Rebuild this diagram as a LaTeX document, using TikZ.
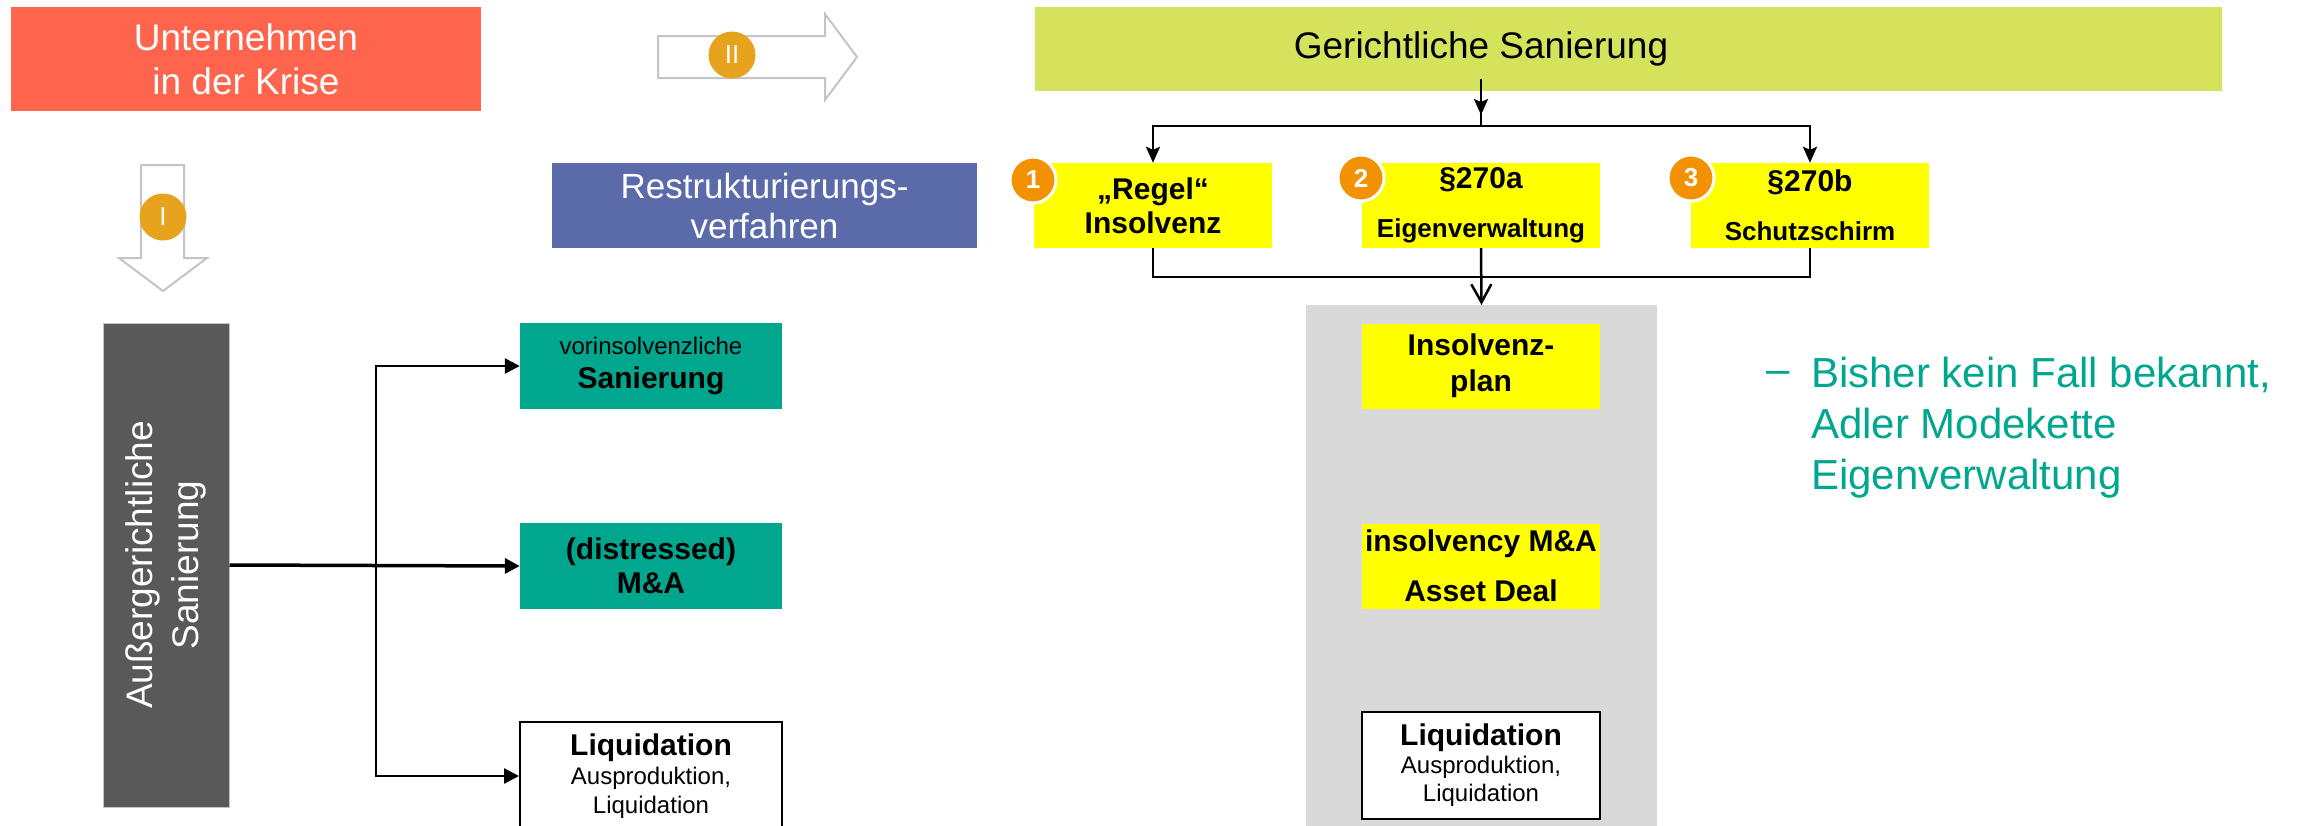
\documentclass[tikz,border=0pt]{standalone}
\usepackage{fontspec}
\setmainfont{Liberation Sans}
\usetikzlibrary{arrows.meta}
\definecolor{redC}{HTML}{FF654D}
\definecolor{limeC}{HTML}{D5E35C}
\definecolor{blueC}{HTML}{5B6BAA}
\definecolor{yellowC}{HTML}{FFFF00}
\definecolor{tealC}{HTML}{00A78E}
\definecolor{darkC}{HTML}{595959}
\definecolor{panelC}{HTML}{D9D9D9}
\definecolor{orangeC}{HTML}{F39200}
\definecolor{goldC}{HTML}{E8A31E}
\definecolor{outlineC}{HTML}{C4C4C4}
\newcommand\fsz[2]{\fontsize{#1}{#2}\selectfont}
\begin{document}
\begin{tikzpicture}[x=1pt,y=-1pt,
  rbox/.style={inner sep=0pt, align=center, minimum width=238pt, minimum height=85pt},
  ybox/.style={rbox, fill=yellowC, font=\fsz{30}{34}\bfseries},
  tbox/.style={inner sep=0pt, align=center, minimum width=262pt, minimum height=86pt, fill=tealC},
  conn/.style={line width=2.5pt, black},
  tipA/.style={-{Triangle[length=15pt,width=15pt]}},
  tipB/.style={-{Stealth[length=16pt,width=14pt,inset=3pt]}},
  circ/.style={circle, fill=orangeC, draw=white, line width=3pt, minimum size=46pt, inner sep=0pt, text=white, font=\fsz{26}{30}\bfseries},
  rom/.style={circle, fill=goldC, minimum size=47pt, inner sep=0pt, text=white, font=\fsz{26}{30}},
  hollow/.style={draw=outlineC, fill=white, line width=2pt, line join=miter}
]
\useasboundingbox (0,0) rectangle (2303,825);

% top-left
\node[fill=redC, minimum width=470pt, minimum height=104pt, inner sep=0pt, text=white, align=center, font=\fsz{37}{44}] (krise) at (246,59) {Unternehmen\\in der Krise};

% hollow arrows
\draw[hollow] (658,36) -- (825,36) -- (825,14) -- (857,57) -- (825,100) -- (825,78) -- (658,78) -- cycle;
\node[rom] (rII) at (732,55) {II};
\draw[hollow] (141,165) -- (184,165) -- (184,258) -- (207,258) -- (163,291) -- (119,258) -- (141,258) -- cycle;
\node[rom] (rI) at (163,217) {I};

% Restrukturierung
\node[fill=blueC, minimum width=425pt, minimum height=85pt, inner sep=0pt, text=white, align=center, font=\fsz{35}{40}] (restr) at (764.5,205.5) {Restrukturierungs-\\verfahren};

% Gerichtliche Sanierung
\node[fill=limeC, minimum width=1187pt, minimum height=84pt, inner sep=0pt] (ger) at (1628.5,49) {};
\node[font=\fsz{37}{44}, inner sep=0pt] (gerT) at (1481,49) {Gerichtliche Sanierung};

\node[ybox] (b1) at (1153,205.5) {„Regel“\\Insolvenz};
\node[ybox, font=\fsz{30}{49}\bfseries] (b2) at (1481,205.5) {§270a\\{\fsz{26}{49}Eigenverwaltung}};
\node[ybox, font=\fsz{30}{49}\bfseries] (b3) at (1810,205.5) {§270b\\{\fsz{26}{49}Schutzschirm}};

\node[circ] (c1) at (1033,180) {1};
\node[circ] (c2) at (1361,178) {2};
\node[circ] (c3) at (1691,178) {3};

% gray panel
\node[fill=panelC, minimum width=351pt, minimum height=525pt, inner sep=0pt] (panel) at (1481.5,567.5) {};
\node[ybox, font=\fsz{30}{36}\bfseries] (plan) at (1481,366) {Insolvenz-\\plan};
\node[ybox, font=\fsz{30}{50}\bfseries] (ima) at (1481,566) {insolvency M\&A\\Asset Deal};
\node[rbox, fill=white, draw=black, line width=2pt, minimum height=107pt, font=\fsz{24}{28}] (liqR) at (1481,765.5) {{\fsz{30}{34}\bfseries Liquidation}\\Ausproduktion,\\Liquidation};

% connectors right
\coordinate (jt) at (1481,126);
\coordinate (jb) at (1481,277);
\coordinate (gs) at (1481,79);
\draw[conn] (gs) -- (jt);
\draw[conn,tipB] (gs) -- ++(0,36);
\draw[conn,tipB] (jt) -| (b1.north);
\draw[conn,tipB] (jt) -| (b3.north);
\draw[conn] (b1.south) |- (jb);
\draw[conn] (b3.south) |- (jb);
\draw[conn,-{Straight Barb[length=18pt,width=20pt]}] (b2.south) -- (panel.north);

% right text
\node[text=tealC, font=\fsz{42}{51}, anchor=east, inner sep=0pt] (dash) at (1790,377) {–};
\node[text=tealC, font=\fsz{42}{51}, anchor=west, align=left, inner sep=0pt] (note) at (1811,428) {Bisher kein Fall bekannt,\\Adler Modekette\\Eigenverwaltung};

% left side
\node[fill=darkC, draw=outlineC, line width=1pt, minimum width=126pt, minimum height=484pt, inner sep=0pt] (dark) at (166,565) {};
\node[rotate=90, text=white, align=center, font=\fsz{37}{46}, inner sep=0pt] (darkT) at (dark.center) {Außergerichtliche\\Sanierung};

\node[tbox, font=\fsz{24}{34}] (ta) at (651,366) {vorinsolvenzliche\\{\fsz{30}{34}\bfseries Sanierung}};
\node[tbox, font=\fsz{30}{34}\bfseries] (tb) at (651,566) {(distressed)\\M\&A};
\node[inner sep=0pt, align=center, minimum width=262pt, minimum height=108pt, fill=white, draw=black, line width=2pt, font=\fsz{24}{29}] (liqL) at (651,776) {{\fsz{30}{34}\bfseries Liquidation}\\Ausproduktion,\\Liquidation};

\coordinate (lj) at (376,565);
\draw[conn, line width=3.5pt, tipA] (dark.east) -- (tb.west);
\draw[conn, tipA] (lj) |- (ta.west);
\draw[conn, tipA] (lj) |- (liqL.west);
\end{tikzpicture}
\end{document}
